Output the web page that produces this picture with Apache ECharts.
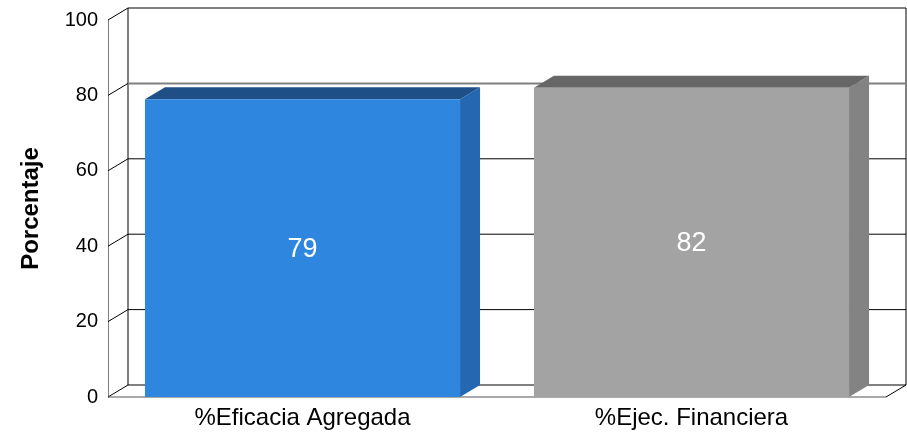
<!DOCTYPE html>
<html>
<head>
<meta charset="utf-8">
<script src="https://cdn.jsdelivr.net/npm/echarts@6/dist/echarts.min.js"></script>
<style>
  html, body { margin: 0; padding: 0; background: #fff; }
  #chart { width: 907px; height: 435px; }
</style>
</head>
<body>
<div id="chart"></div>
<script>
// datos
var categories = ['%Eficacia Agregada', '%Ejec. Financiera']
var values = [79, 82]
var yTicks = [0, 20, 40, 60, 80, 100]

// colores de cada barra: frente, lado, tapa
var barColors = [
  { front: '#2E86DF', side: '#2567B0', top: '#1F4F87' },
  { front: '#A3A3A3', side: '#838383', top: '#666666' }
]

// profundidad del efecto 3d
var DX = 20
var DY = -12

var myChart = echarts.init(document.getElementById('chart'))

function renderWall (params, api) {
  var cs = params.coordSys
  var v = api.value(1)
  var y = api.coord([0, v])[1]
  var xl = cs.x
  var xr = cs.x + cs.width
  var children = []
  // diagonal en la pared izquierda
  children.push({
    type: 'line',
    shape: { x1: xl, y1: y, x2: xl + DX, y2: y + DY },
    style: { stroke: '#000', lineWidth: 1 }
  })
  // linea de la pared del fondo
  children.push({
    type: 'line',
    shape: { x1: xl + DX, y1: y + DY, x2: xr + DX, y2: y + DY },
    style: { stroke: v === 80 ? '#808080' : '#000', lineWidth: v === 80 ? 2 : 1 }
  })
  if (v === 0) {
    // piso
    children.push({
      type: 'line',
      shape: { x1: xl, y1: y, x2: xr, y2: y },
      style: { stroke: '#555', lineWidth: 1 }
    })
    children.push({
      type: 'line',
      shape: { x1: xr, y1: y, x2: xr + DX, y2: y + DY },
      style: { stroke: '#000', lineWidth: 1 }
    })
    // verticales del fondo
    var yTop = api.coord([0, yTicks[yTicks.length - 1]])[1]
    children.push({
      type: 'line',
      shape: { x1: xl + DX, y1: y + DY, x2: xl + DX, y2: yTop + DY },
      style: { stroke: '#000', lineWidth: 1 }
    })
    children.push({
      type: 'line',
      shape: { x1: xr + DX, y1: y + DY, x2: xr + DX, y2: yTop + DY },
      style: { stroke: '#000', lineWidth: 1 }
    })
  }
  return { type: 'group', children: children }
}

function renderBar (params, api) {
  var idx = api.value(0)
  var val = api.value(1)
  var base = api.coord([idx, 0])
  var top = api.coord([idx, val])
  var w = api.size([1, 0])[0] * 0.81
  var x0 = base[0] - w / 2
  var x1 = base[0] + w / 2
  var y0 = base[1]
  var y1 = top[1]
  var c = barColors[params.dataIndex]
  return {
    type: 'group',
    children: [
      {
        type: 'polygon',
        shape: { points: [[x1, y0], [x1 + DX, y0 + DY], [x1 + DX, y1 + DY], [x1, y1]] },
        style: { fill: c.side }
      },
      {
        type: 'polygon',
        shape: { points: [[x0, y1], [x0 + DX, y1 + DY], [x1 + DX, y1 + DY], [x1, y1]] },
        style: { fill: c.top }
      },
      {
        type: 'rect',
        shape: { x: x0, y: y1, width: w, height: y0 - y1 },
        style: { fill: c.front }
      },
      {
        type: 'text',
        style: {
          x: base[0],
          y: (y0 + y1) / 2 + 1,
          text: String(val),
          fill: '#fff',
          fontSize: 27,
          fontFamily: 'Liberation Sans',
          align: 'center',
          verticalAlign: 'middle'
        }
      }
    ]
  }
}

var option = {
  backgroundColor: '#fff',
  animation: false,
  grid: {
    left: 108,
    right: 21,
    top: 20,
    bottom: 38
  },
  xAxis: {
    type: 'category',
    data: categories,
    axisLine: { show: false },
    axisTick: { show: false },
    axisLabel: {
      color: '#000',
      fontSize: 24,
      fontFamily: 'Liberation Sans',
      margin: 9
    }
  },
  yAxis: {
    type: 'value',
    min: 0,
    max: 100,
    interval: 20,
    name: 'Porcentaje',
    nameLocation: 'middle',
    nameRotate: 90,
    nameGap: 65,
    nameTextStyle: {
      color: '#000',
      fontSize: 24,
      fontWeight: 'bold',
      fontFamily: 'Liberation Sans'
    },
    axisLine: { show: true, lineStyle: { color: '#808080', width: 1 } },
    axisTick: { show: false },
    splitLine: { show: false },
    axisLabel: {
      color: '#000',
      fontSize: 20,
      fontFamily: 'Liberation Sans',
      margin: 10
    }
  },
  series: [
    {
      type: 'custom',
      z: 1,
      silent: true,
      renderItem: renderWall,
      data: yTicks.map(function (v) { return [0, v] })
    },
    {
      type: 'custom',
      z: 5,
      renderItem: renderBar,
      data: values.map(function (v, i) { return [i, v] })
    }
  ]
}

myChart.setOption(option)
</script>
</body>
</html>
